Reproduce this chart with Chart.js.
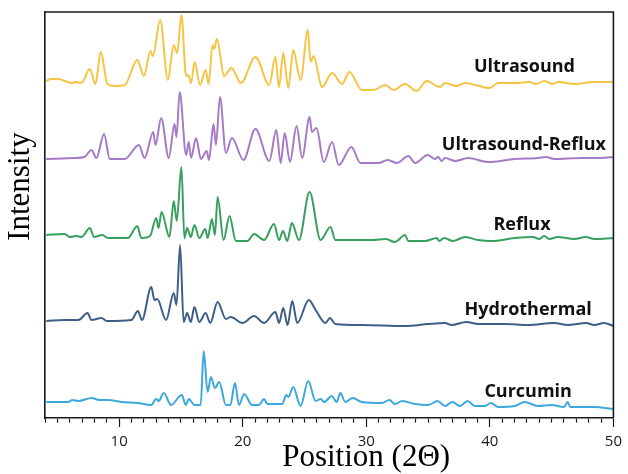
<!DOCTYPE html>
<html>
<head>
<meta charset="utf-8">
<script src="https://cdn.jsdelivr.net/npm/chart.js@4"></script>
<style>
  body { margin: 0; background: #fff; }
</style>
</head>
<body>
<canvas id="canvasGrafico" width="628" height="474"></canvas>
<script>
// XRD patterns: [2theta, intensity (stacked, a.u.)]
const seriesNames = ['Ultrasound', 'Ultrasound-Reflux', 'Reflux', 'Hydrothermal', 'Curcumin'];

const ultrasound = [[4.1,337],[4.5,339],[5.1,339],[5.6,337],[6.15,335],[6.55,336],[6.95,335],[7.63,349],[8.08,334],[8.51,366],[9.05,334],[9.64,332],[10.45,333],[11.47,358],[12.0,342],[12.54,367],[12.73,362],[13.32,398],[13.94,338],[14.42,373],[14.69,365],[15.04,403],[15.42,342],[15.6,343],[15.82,335],[16.11,356],[16.55,333],[17.0,348],[17.24,334],[17.56,373],[17.7,369],[17.91,379],[18.5,342],[19.09,350],[19.85,335],[21.03,361],[22.15,333],[22.64,361],[22.94,331],[23.28,365],[23.69,330],[24.09,368],[24.68,338],[25.27,388],[25.49,356],[25.73,362],[26.42,331],[27.23,345],[28.04,334],[28.63,346],[29.65,328],[30.6,328],[31.53,333],[32.2,328],[33.14,334],[34.08,327],[34.89,337],[35.96,331],[36.37,335],[37.3,332],[37.98,335],[39.99,330],[40.67,335],[42.0,335],[43.2,336],[43.75,334],[44.4,337],[45.1,334],[45.5,336],[46.84,334],[48.45,336],[50,336]];

const ultrasoundReflux = [[4.1,259],[6.4,260],[7.2,261],[7.76,268],[8.16,260],[8.78,284],[9.24,259],[10.45,259],[11.6,273],[12.06,260],[12.76,286],[12.94,273],[13.4,300],[14.02,260],[14.48,294],[14.64,281],[14.9,326],[15.42,263],[15.63,276],[15.82,260],[16.22,280],[16.62,259],[17.08,267],[17.27,258],[17.64,294],[17.83,273],[18.16,321],[18.64,265],[19.13,280],[20.06,258],[21.03,289],[22.15,257],[22.72,288],[23.07,255],[23.4,285],[23.82,256],[24.36,292],[24.81,260],[25.41,301],[25.6,286],[25.97,290],[26.56,256],[27.23,276],[27.77,253],[28.8,271],[29.52,255],[31.0,255],[31.74,258],[32.47,255],[33.41,262],[33.95,255],[34.97,263],[35.56,259],[35.8,261],[36.1,257],[36.37,260],[37.2,257],[38.25,260],[39.86,256],[42.0,259],[43.9,260],[44.55,261],[45.2,259],[47.4,260],[48.7,260],[50,261]];

const reflux = [[4.1,183],[5.6,184],[6.0,181],[6.55,182],[6.95,181],[7.63,190],[7.97,181],[8.62,183],[9.1,180],[10.71,180],[11.47,192],[11.79,180],[12.5,182],[13.0,200],[13.19,190],[13.43,206],[14.07,181],[14.42,217],[14.66,197],[15.04,251],[15.28,180],[15.5,190],[15.8,181],[16.09,193],[16.49,180],[16.97,189],[17.16,180],[17.51,199],[17.75,183],[17.97,221],[18.45,178],[18.93,202],[19.45,177],[20.38,177],[20.92,184],[21.73,178],[22.53,194],[22.94,178],[23.26,187],[23.6,177],[23.98,195],[24.55,178],[25.41,226],[26.3,178],[27.1,191],[27.5,178],[28.0,178],[30.46,178],[31.59,179],[32.3,176],[33.14,183],[33.4,177],[34.76,177],[35.7,180],[35.9,177],[36.3,180],[37.0,177],[38.0,181],[39.05,178],[40.13,177],[42.0,180],[43.5,181],[44.0,179],[44.4,182],[44.8,179],[45.5,181],[46.84,179],[47.78,181],[48.45,179],[50,180]];

const hydrothermal = [[4.1,97],[5.6,98],[6.7,98],[7.44,105],[7.76,98],[8.57,100],[9.0,97],[10.99,98],[11.52,107],[11.85,98],[12.6,131],[12.86,118],[13.08,119],[13.8,98],[14.42,125],[14.64,113],[14.93,173],[15.22,96],[15.5,105],[15.8,96],[16.09,111],[16.49,96],[17.0,105],[17.37,95],[17.97,116],[18.64,99],[19.03,101],[19.98,95],[20.92,102],[21.73,95],[22.64,106],[22.94,95],[23.28,110],[23.63,93],[24.01,117],[24.41,95],[25.35,118],[25.9,108],[26.7,95],[27.05,100],[27.5,94],[29.65,93],[33.14,92],[35.0,94],[36.37,95],[36.9,93],[38.1,96],[39.05,94],[41.2,94],[43.1,93],[45.2,95],[46.3,93],[47.8,95],[48.45,93],[49.25,95],[50,92]];

const curcumin = [[4.1,16],[5.9,16],[6.2,18],[6.7,17],[7.76,20],[8.4,18],[9.1,18],[10.18,16],[11.52,15],[12.6,13],[13.0,19],[13.2,17],[13.61,25],[14.2,13],[15.07,23],[15.4,13],[15.63,19],[16.1,13],[16.6,13],[16.84,67],[17.16,26],[17.43,41],[17.75,30],[18.1,36],[18.64,13],[19.0,13],[19.37,35],[19.7,13],[20.12,24],[20.75,13],[21.3,13],[21.73,19],[22.0,14],[23.2,14],[23.52,23],[23.7,21],[24.09,31],[24.68,12],[25.3,37],[25.9,17],[26.3,19],[26.6,16],[27.2,22],[27.6,16],[27.9,25],[28.3,16],[28.9,20],[29.65,16],[31.26,15],[31.88,18],[32.3,14],[32.93,17],[33.95,14],[35.0,13],[35.77,17],[36.37,12],[36.96,16],[37.58,12],[38.2,17],[38.78,12],[39.6,12],[40.08,15],[40.67,11],[42.0,12],[42.8,16],[43.9,12],[45.0,13],[46.0,11],[46.3,16],[46.5,11],[48.45,11],[50,9]];

const seriesColors = ['#F5C444', '#A57BC6', '#37A05E', '#3E5E88', '#3DA8DD'];

const toPoints = arr => arr.map(p => ({ x: p[0], y: p[1] }));

// labels next to each pattern
const etiquetas = {
    id: 'etiquetas',
    afterDatasetsDraw(chart, args, opts) {
        const ctx = chart.ctx;
        const sx = chart.scales.x, sy = chart.scales.y;
        ctx.save();
        ctx.font = 'bold 18px "Open Sans"';
        ctx.fillStyle = '#111';
        ctx.textAlign = 'center';
        ctx.textBaseline = 'middle';
        opts.items.forEach(it => {
            ctx.fillText(it.text, sx.getPixelForValue(it.x), sy.getPixelForValue(it.y));
        });
        ctx.restore();
    }
};

// closes the box (top and right) and writes the axis titles,
// which sit a bit off-centre in the original figure
const marco = {
    id: 'marco',
    afterDraw(chart, args, opts) {
        const { ctx, chartArea: a } = chart;
        ctx.save();
        ctx.strokeStyle = '#1a1a1a';
        ctx.lineWidth = 1.6;
        ctx.beginPath();
        ctx.moveTo(a.left, a.top);
        ctx.lineTo(a.right, a.top);
        ctx.lineTo(a.right, a.bottom);
        ctx.stroke();

        ctx.fillStyle = '#000';
        ctx.font = '31px "Liberation Serif"';
        ctx.textAlign = 'center';
        ctx.textBaseline = 'middle';
        ctx.fillText(opts.xTitle, a.left + (a.right - a.left) * 0.565, 458);
        ctx.translate(21, a.top + (a.bottom - a.top) * 0.43);
        ctx.rotate(-Math.PI / 2);
        ctx.fillText(opts.yTitle, 0, 0);
        ctx.restore();
    }
};

const datasets = [ultrasound, ultrasoundReflux, reflux, hydrothermal, curcumin].map((d, i) => ({
    label: seriesNames[i],
    data: toPoints(d),
    borderColor: seriesColors[i],
    borderWidth: 2,
    pointRadius: 0,
    fill: false,
    cubicInterpolationMode: 'monotone'
}));

new Chart(document.getElementById('canvasGrafico').getContext('2d'), {
    type: 'line',
    data: { datasets },
    options: {
        responsive: false,
        animation: false,
        layout: { padding: { top: 12, right: 12, left: 0, bottom: 0 } },
        scales: {
            x: {
                type: 'linear',
                min: 4,
                max: 50,
                afterFit: s => { s.height = 56; },
                border: { display: true, color: '#1a1a1a', width: 1.6 },
                grid: {
                    drawOnChartArea: false,
                    tickLength: 9,
                    tickColor: '#1a1a1a',
                    tickWidth: 1.2,
                    tickBorderDash: c => (c.tick && c.tick.value % 10 === 0) ? [] : [4, 20]
                },
                ticks: {
                    stepSize: 1,
                    autoSkip: false,
                    maxRotation: 0,
                    padding: 6,
                    color: '#1a1a1a',
                    font: { family: 'Open Sans', size: 15 },
                    callback: v => (v % 10 === 0 ? v : '')
                }
            },
            y: {
                min: 0,
                max: 406,
                afterFit: s => { s.width = 45; },
                border: { display: true, color: '#1a1a1a', width: 1.6 },
                grid: { display: false },
                ticks: { display: false }
            }
        },
        plugins: {
            legend: { display: false },
            tooltip: { enabled: false },
            marco: { xTitle: 'Position (2Θ)', yTitle: 'Intensity' },
            etiquetas: {
                items: [
                    { text: seriesNames[0], x: 42.8, y: 351 },
                    { text: seriesNames[1], x: 42.75, y: 273 },
                    { text: seriesNames[2], x: 42.6, y: 193 },
                    { text: seriesNames[3], x: 43.1, y: 108 },
                    { text: seriesNames[4], x: 43.1, y: 26 }
                ]
            }
        }
    },
    plugins: [etiquetas, marco]
});
</script>
</body>
</html>
